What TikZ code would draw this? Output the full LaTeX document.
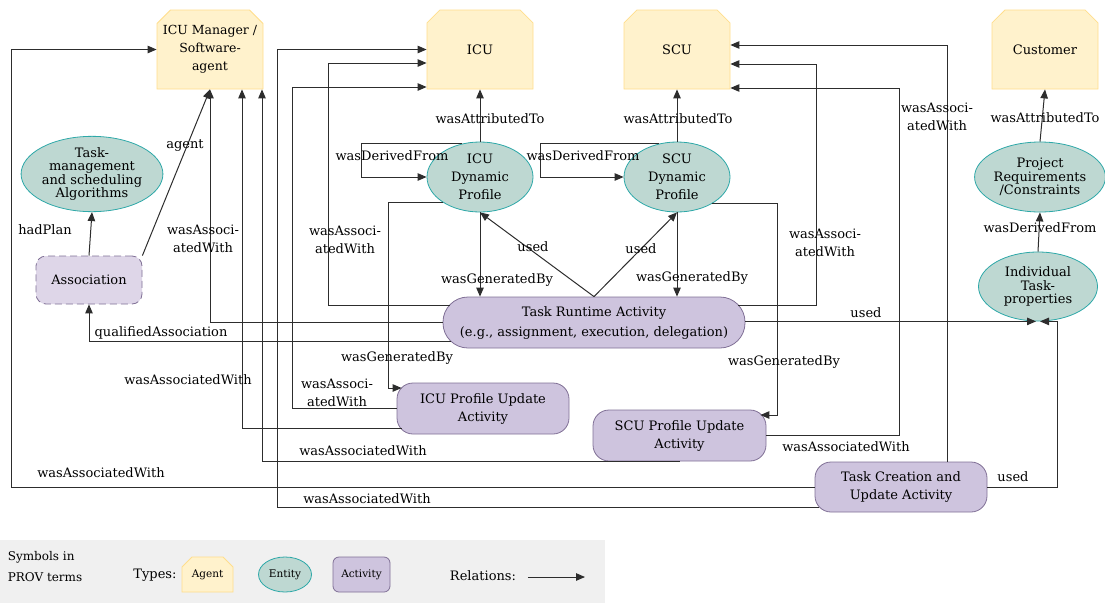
\documentclass[tikz,border=0pt]{standalone}
\usepackage{fontspec}
\setmainfont{DejaVu Serif}
\usetikzlibrary{arrows.meta,shapes.misc,shapes.geometric}

\definecolor{agentfill}{RGB}{255,242,204}
\definecolor{agentline}{RGB}{255,222,140}
\definecolor{entityfill}{RGB}{190,216,210}
\definecolor{entityline}{RGB}{45,168,168}
\definecolor{actfill}{RGB}{206,196,222}
\definecolor{actline}{RGB}{128,112,150}
\definecolor{assocfill}{RGB}{222,214,232}
\definecolor{legendbg}{RGB}{240,240,240}
\definecolor{wire}{RGB}{45,45,45}

\begin{document}
\begin{tikzpicture}[x=1pt,y=-1pt,->,>={Triangle[length=9pt,width=7.5pt]},line width=1pt,
    draw=wire,font=\fontsize{13}{18}\selectfont,
    agent/.style={chamfered rectangle,chamfered rectangle corners={north west,north east},
      chamfered rectangle xsep=8pt,chamfered rectangle ysep=8pt,draw=agentline,fill=agentfill,
      minimum width=106pt,minimum height=79pt,inner sep=0pt,align=center,line width=0.8pt},
    entity/.style={ellipse,draw=entityline,fill=entityfill,inner sep=0pt,align=center,
      minimum width=106pt,minimum height=70pt,line width=0.8pt},
    tight/.style={font=\fontsize{13}{13.5}\selectfont},
    activity/.style={rectangle,rounded corners=16pt,draw=actline,fill=actfill,align=center,
      minimum width=172pt,minimum height=51pt,line width=0.8pt},
    lbl/.style={align=center,inner sep=0pt}]

  \useasboundingbox (0,0) rectangle (1105,603);

  % agents
  \node[agent,chamfered rectangle xsep=5.5pt,font=\fontsize{12.5}{18}\selectfont] (mgr) at (210,49.5) {ICU Manager /\\Software-\\agent};
  \node[agent] (icu) at (480,49.5) {ICU};
  \node[agent] (scu) at (677,49.5) {SCU};
  \node[agent] (cust) at (1045,49.5) {Customer};

  % entities
  \node[entity,tight,minimum width=129pt] (algo) at (92,174) {Task-\\management\\and scheduling\\Algorithms};
  \node[entity] (icudp) at (480,177) {ICU\\Dynamic\\Profile};
  \node[entity] (scudp) at (677,177) {SCU\\Dynamic\\Profile};
  \node[entity,tight,minimum width=128pt] (req) at (1040,177) {Project\\Requirements\\/Constraints};
  \node[entity,tight,minimum width=119pt,minimum height=69pt] (ind) at (1038,286.5) {Individual\\Task-\\properties};

  % activities
  \node[activity,fill=assocfill,dash pattern=on 7pt off 4pt,rounded corners=10pt,
        minimum width=106pt,minimum height=48pt] (assoc) at (89,280) {Association};
  \node[activity,rounded corners=25pt,minimum width=302pt,
        font=\fontsize{13}{20}\selectfont] (run) at (594,322.5) {Task Runtime Activity\\(e.g., assignment, execution, delegation)};
  \node[activity] (icuupd) at (483,408.5) {ICU Profile Update\\Activity};
  \node[activity,minimum width=173pt] (scuupd) at (679.5,435.5) {SCU Profile Update\\Activity};
  \node[activity,minimum height=50pt] (create) at (901,487) {Task Creation and\\Update Activity};

  % relations
  \draw (assoc.north) -- (algo.south);
  \node[lbl] at (45,230) {hadPlan};
  \draw (assoc.north east) -- (mgr.south);
  \node[lbl] at (185,146) {agent};
  \draw (run.west) -| (mgr.south);
  \node[lbl] at (203,239) {wasAssoci-\\atedWith};
  \draw ([xshift=8pt,yshift=-18.5pt]run.west) -| (assoc.south);
  \node[lbl] at (161,333) {qualifiedAssociation};
  \draw ([xshift=7pt,yshift=17pt]run.west) -| (328,63) -- ([yshift=-13.5pt]icu.west);
  \node[lbl] at (345,240) {wasAssoci-\\atedWith};
  \draw (icuupd.west) -| (292,87) -- ([yshift=-37.5pt]icu.west);
  \node[lbl] at (337,393) {wasAssoci-\\atedWith};
  \draw (icudp.214) -| (388,388) -- ([xshift=5pt,yshift=20.5pt]icuupd.west);
  \node[lbl] at (397,358) {wasGeneratedBy};

  \draw (icudp.north) -- (icu.south);
  \node[lbl] at (490,119) {wasAttributedTo};
  \draw (scudp.north) -- (scu.south);
  \node[lbl] at (678,119) {wasAttributedTo};
  \draw (req.north) -- (cust.south);
  \node[lbl] at (1045,118) {wasAttributedTo};
  \draw (ind.north) -- (req.south);
  \node[lbl] at (1040,228) {wasDerivedFrom};

  \draw (icudp.118) -| (361,177) -- (icudp.west);
  \node[lbl] at (392,156) {wasDerivedFrom};
  \draw (scudp.118) -| (540,177) -- (scudp.west);
  \node[lbl] at (583,156) {wasDerivedFrom};

  \draw (icudp.south) -- (icudp.south |- run.north);
  \node[lbl] at (497,280) {wasGeneratedBy};
  \draw (run.north) -- (icudp.south);
  \node[lbl] at (533,247) {used};
  \draw (scudp.south) -- (scudp.south |- run.north);
  \node[lbl] at (692,278) {wasGeneratedBy};
  \draw (run.north) -- (scudp.south);
  \node[lbl] at (641,249) {used};

  \draw (run.east |- ind.south) -- ([xshift=-2pt]ind.south);
  \node[lbl] at (866,313) {used};
  \draw (create.east) -| ([xshift=19pt]ind.south) -- ([xshift=2pt]ind.south);
  \node[lbl] at (1013,477) {used};

  \draw ([xshift=-7pt,yshift=17pt]run.east) -| (816,64) -- ([yshift=-14.5pt]scu.east);
  \node[lbl] at (825,243) {wasAssoci-\\atedWith};
  \draw (scudp.-37) -| (777,415) -- ([xshift=-6pt,yshift=20.5pt]scuupd.east);
  \node[lbl] at (784,362) {wasGeneratedBy};
  \draw (scuupd.east) -| (899,88) -- ([yshift=-38.5pt]scu.east);
  \node[lbl] at (846,447) {wasAssociatedWith};
  \draw ([xshift=46pt]create.north) |- ([yshift=4.5pt]scu.east);
  \node[lbl] at (937,117) {wasAssoci-\\atedWith};

  \draw (create.west) -| (11,49.5) -- (mgr.west);
  \node[lbl] at (101,473) {wasAssociatedWith};
  \draw ([xshift=4pt,yshift=-20pt]create.west) -| (277,49.5) -- (icu.west);
  \node[lbl] at (367,499) {wasAssociatedWith};
  \draw (scuupd.south) -| ([xshift=52pt]mgr.south);
  \node[lbl] at (363,451) {wasAssociatedWith};
  \draw ([xshift=5pt,yshift=-19.5pt]icuupd.west) -| ([xshift=32pt]mgr.south);
  \node[lbl] at (188,380) {wasAssociatedWith};

  % legend
  \fill[legendbg] (0,540) rectangle (605,603);
  \node[anchor=west,align=left,font=\fontsize{12}{21}\selectfont] (sym) at (4,567) {Symbols in\\PROV terms};
  \node (types) at (155,575) {Types:};
  \node[agent,minimum width=51pt,minimum height=35pt,chamfered rectangle xsep=5pt,
        chamfered rectangle ysep=5pt,font=\fontsize{10.5}{11}\selectfont] (lagent) at (207.5,574.5) {Agent};
  \node[entity,minimum width=53pt,minimum height=35pt,font=\fontsize{10.5}{11}\selectfont] (lentity) at (285,574.5) {Entity};
  \node[activity,minimum width=57pt,minimum height=35pt,rounded corners=6pt,
        font=\fontsize{10.5}{11}\selectfont] (lact) at (361.5,574.5) {Activity};
  \node (rel) at (483,576) {Relations:};
  \coordinate (relend) at (585,577);
  \draw ([xshift=8pt,yshift=-1pt]rel.east) -- (relend);
\end{tikzpicture}
\end{document}
